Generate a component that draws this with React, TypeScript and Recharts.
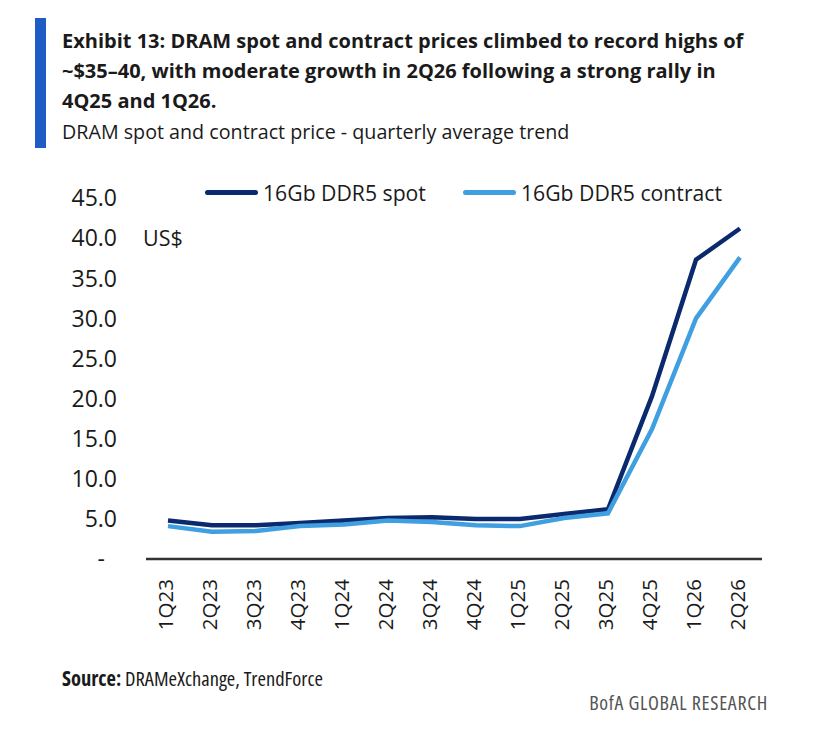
import { LineChart, Line, XAxis, YAxis, Legend } from 'recharts'

const QUARTERS = [
  '1Q23', '2Q23', '3Q23', '4Q23', '1Q24', '2Q24', '3Q24',
  '4Q24', '1Q25', '2Q25', '3Q25', '4Q25', '1Q26', '2Q26',
]
const SPOT = [4.8, 4.2, 4.2, 4.5, 4.8, 5.1, 5.2, 5.0, 5.0, 5.6, 6.2, 20.3, 37.3, 41.2]
const CONTRACT = [4.1, 3.4, 3.5, 4.1, 4.3, 4.8, 4.6, 4.2, 4.1, 5.1, 5.7, 16.2, 30.0, 37.6]
const Y_TICKS = [0, 5, 10, 15, 20, 25, 30, 35, 40, 45]
const SERIES_ORDER = ['spot', 'contract']

const SPOT_COLOR = '#0b2a6e'
const CONTRACT_COLOR = '#3f9fe0'
const TEXT = '#1a1a1a'
const SANS = '"Open Sans", sans-serif'
const font = (stretch: string) => ({ fontFamily: SANS, fontStretch: stretch })

const data = QUARTERS.map((q, i) => ({ q, spot: SPOT[i], contract: CONTRACT[i] }))

function YTick({ x, y, payload }: any) {
  const v = payload.value as number
  return (
    <text x={v === 0 ? x - 12 : x} y={y} dy="0.36em" textAnchor="end"
      style={font('100%')} fontSize={23} fill={TEXT}>
      {v === 0 ? '-' : v.toFixed(1)}
    </text>
  )
}

function XTick({ x, y, payload }: any) {
  return (
    <g transform={`translate(${x},${y})`}>
      <text transform="rotate(-90)" textAnchor="end" dy="0.36em" x={0} y={-2}
        style={font('100%')} fontSize={20.5} fill={TEXT}>
        {payload.value}
      </text>
    </g>
  )
}

function LegendContent({ payload }: any) {
  const items = [...(payload ?? [])].sort(
    (a: any, b: any) => SERIES_ORDER.indexOf(a.dataKey) - SERIES_ORDER.indexOf(b.dataKey),
  )
  return (
    <div style={{ display: 'flex', alignItems: 'center', ...font('100%'), fontSize: 21.2, color: TEXT, whiteSpace: 'nowrap' }}>
      {items.map((p: any, i: number) => (
        <div key={i} style={{ display: 'flex', alignItems: 'center', marginRight: 37 }}>
          <span style={{ width: 53, height: 5, borderRadius: 3, background: p.color, marginRight: 5 }} />
          <span>{p.value}</span>
        </div>
      ))}
    </div>
  )
}

export default function App() {
  return (
    <div style={{ position: 'absolute', left: 0, top: 0, width: 822, height: 748, background: '#fff', color: TEXT }}>
      <div style={{ position: 'absolute', left: 35, top: 18, width: 11, height: 130, background: '#1f5cc6' }} />
      <div style={{ position: 'absolute', left: 62, top: 26, ...font('100%'), fontWeight: 700, fontSize: 20, lineHeight: '30px', whiteSpace: 'nowrap' }}>
        Exhibit 13: DRAM spot and contract prices climbed to record highs of<br />
        ~$35–40, with moderate growth in 2Q26 following a strong rally in<br />
        4Q25 and 1Q26.
      </div>
      <div style={{ position: 'absolute', left: 62, top: 118, ...font('100%'), fontSize: 19.7, lineHeight: '28px', whiteSpace: 'nowrap' }}>
        DRAM spot and contract price - quarterly average trend
      </div>

      <div style={{ position: 'absolute', left: 0, top: 0 }}>
        <LineChart width={822} height={748} data={data} margin={{ top: 198, right: 60, bottom: 109, left: 66 }}>
          <XAxis dataKey="q" interval={0} padding={{ left: 22, right: 22 }} height={80}
            tick={<XTick />} tickLine={false} tickSize={0} tickMargin={20}
            axisLine={{ stroke: '#333', strokeWidth: 2.5 }} />
          <YAxis domain={[0, 45]} ticks={Y_TICKS} width={80} interval={0}
            tick={<YTick />} tickLine={false} tickSize={0} tickMargin={29} axisLine={false} />
          <Legend layout="horizontal" verticalAlign="middle" align="center" content={<LegendContent />}
            wrapperStyle={{ position: 'absolute', top: 178, left: 205, width: 600 }} />
          <Line dataKey="spot" name="16Gb DDR5 spot" stroke={SPOT_COLOR} strokeWidth={4.5}
            dot={false} isAnimationActive={false} />
          <Line dataKey="contract" name="16Gb DDR5 contract" stroke={CONTRACT_COLOR} strokeWidth={4.5}
            dot={false} isAnimationActive={false} />
        </LineChart>
      </div>

      <div style={{ position: 'absolute', left: 143, top: 223, ...font('100%'), fontSize: 21.5 }}>US$</div>

      <div style={{ position: 'absolute', left: 62, top: 664, ...font('75%'), fontSize: 20.5 }}>
        <b>Source:</b> DRAMeXchange, TrendForce
      </div>
      <div style={{ position: 'absolute', right: 54, top: 689, ...font('75%'), fontSize: 20, letterSpacing: 0.7, color: '#555' }}>
        BofA GLOBAL RESEARCH
      </div>
    </div>
  )
}
